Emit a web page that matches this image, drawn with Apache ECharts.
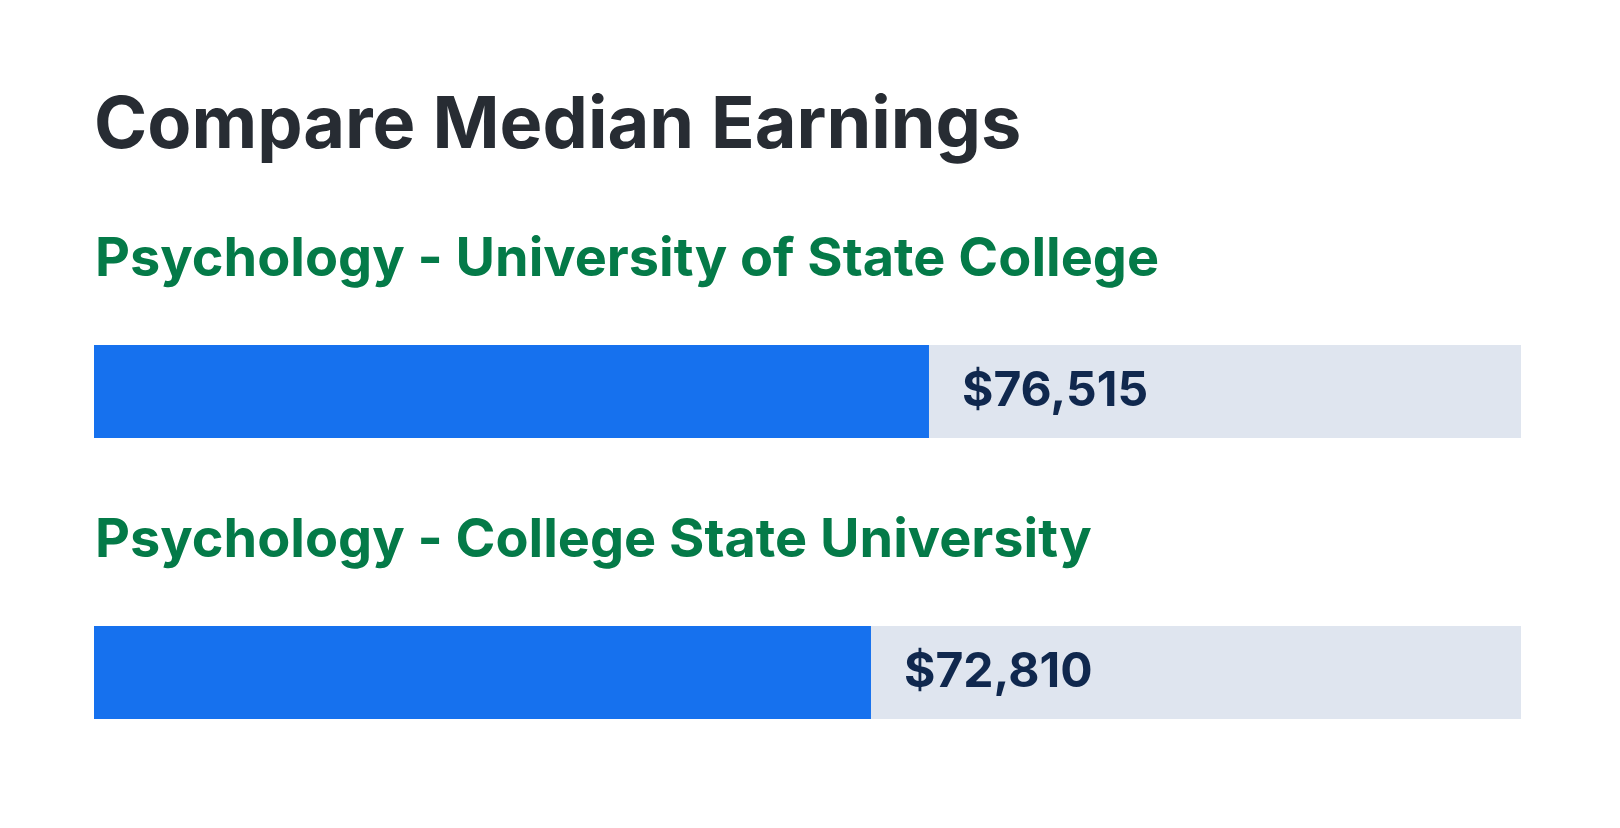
<!DOCTYPE html>
<html>
<head>
<meta charset="utf-8">
<script src="https://cdn.jsdelivr.net/npm/echarts@6/dist/echarts.min.js"></script>
<style>
html,body{margin:0;padding:0;background:#fff;}
#chart{width:1620px;height:828px;}
</style>
</head>
<body>
<div id="chart"></div>
<script>
const chartTitle = 'Compare Median Earnings';
const programs = ['Psychology - University of State College', 'Psychology - College State University'];
const earnings = [76515, 72810];
const earningLabels = ['$76,515', '$72,810'];
const axisMin = 23180;
const axisMax = 114330;

const FONT = 'Inter, "Noto Sans", sans-serif';
const chart = echarts.init(document.getElementById('chart'), null, {renderer: 'canvas'});

const gridTops = [345, 626];
const subTitleTops = [233, 514];

const titles = [{
  text: chartTitle,
  left: 94,
  top: 90,
  padding: 0,
  textStyle: {fontFamily: FONT, fontSize: 72, fontWeight: 'bold', color: '#272c33'}
}];
programs.forEach((p, i) => {
  titles.push({
    text: p,
    left: 95,
    top: subTitleTops[i],
    padding: 0,
    textStyle: {fontFamily: FONT, fontSize: 54, fontWeight: 'bold', color: '#047a48'}
  });
});

const grids = [], xAxes = [], yAxes = [], series = [];
programs.forEach((p, i) => {
  grids.push({left: 94, top: gridTops[i], width: 1427, height: 93, containLabel: false});
  xAxes.push({type: 'value', gridIndex: i, min: axisMin, max: axisMax, show: false, splitLine: {show: false}});
  yAxes.push({type: 'category', gridIndex: i, data: [p], show: false});
  series.push({
    type: 'bar',
    xAxisIndex: i,
    yAxisIndex: i,
    data: [earnings[i]],
    barWidth: '100%',
    showBackground: true,
    backgroundStyle: {color: '#dfe5ef'},
    itemStyle: {color: '#1671ee'},
    silent: true,
    animation: false,
    label: {
      show: true,
      position: 'right',
      distance: 33,
      formatter: earningLabels[i],
      fontFamily: FONT,
      fontSize: 48,
      fontWeight: 'bold',
      color: '#10284e'
    }
  });
});

chart.setOption({
  backgroundColor: '#ffffff',
  animation: false,
  title: titles,
  grid: grids,
  xAxis: xAxes,
  yAxis: yAxes,
  series: series
});
</script>
</body>
</html>
